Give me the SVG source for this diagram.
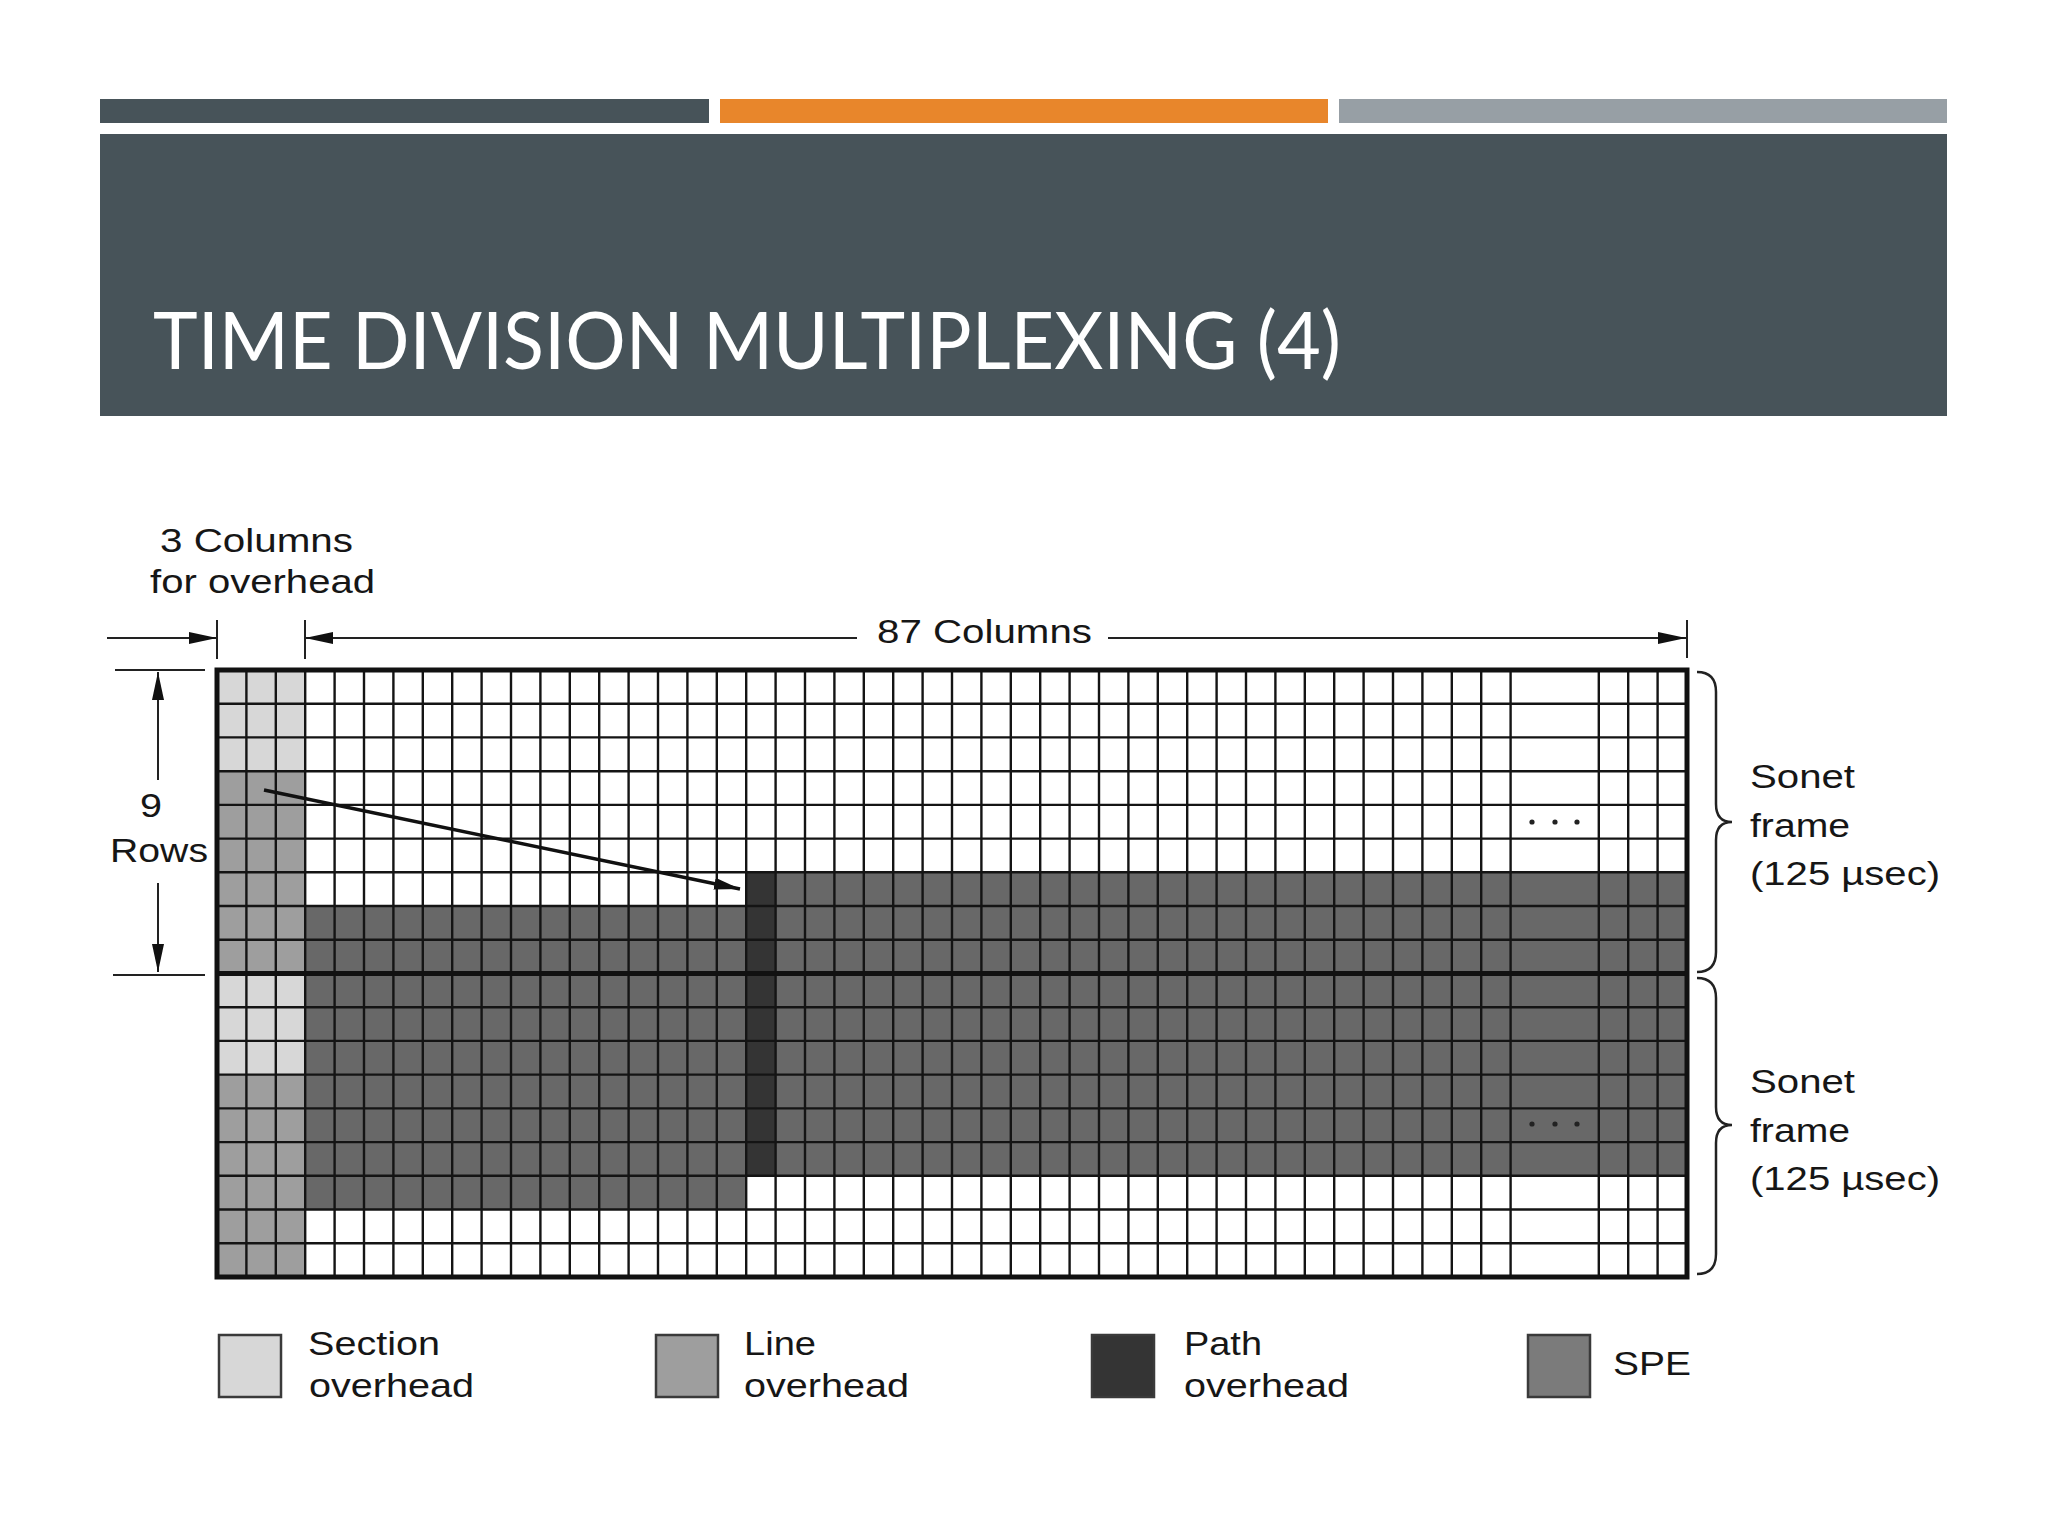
<svg xmlns="http://www.w3.org/2000/svg" width="2048" height="1536" viewBox="0 0 2048 1536">
  <style>
    .lbl { font-family: "Liberation Sans", Arial, sans-serif; font-size: 33px; fill: #161616; }
    .title { font-family: Lato, "Open Sans", sans-serif; font-size: 80px; fill: #ffffff; }
    .dim { stroke: #222; stroke-width: 2; fill: none; }
    .grid { stroke: #141414; stroke-width: 2.4; fill: none; }
    .sec { fill: #d7d7d7; }
    .line { fill: #9e9e9e; }
    .path { fill: #343434; }
    .spe { fill: #686868; }
    .lgd { stroke: #3a3a3a; stroke-width: 2.5; }
    .brace { stroke: #222; stroke-width: 2.5; fill: none; }
  </style>
  <defs>
    <marker id="ah" viewBox="0 0 28 12" refX="28" refY="6" markerWidth="28" markerHeight="12" markerUnits="userSpaceOnUse" orient="auto">
      <path d="M0,0 L28,6 L0,12 z" fill="#111"/>
    </marker>
    <marker id="ah2" viewBox="0 0 26 12" refX="26" refY="6" markerWidth="26" markerHeight="12" markerUnits="userSpaceOnUse" orient="auto">
      <path d="M0,0 L26,6 L0,12 z" fill="#111"/>
    </marker>
  </defs>
  <rect width="2048" height="1536" fill="#ffffff"/>

  <g id="header">
    <rect x="100" y="99" width="609" height="24" fill="#475359"/>
    <rect x="720" y="99" width="608" height="24" fill="#e8862b"/>
    <rect x="1339" y="99" width="608" height="24" fill="#979fa5"/>
    <rect x="100" y="134" width="1847" height="282" fill="#475359"/>
    <text class="title" x="153" y="369" textLength="1188" lengthAdjust="spacingAndGlyphs">TIME DIVISION MULTIPLEXING (4)</text>
  </g>

  <g id="sonet-grid">
    <rect class="sec" x="217" y="670" width="88.2" height="101.2"/>
    <rect class="sec" x="217" y="973.5" width="88.2" height="101.1"/>
    <rect class="line" x="217" y="771.2" width="88.2" height="202.3"/>
    <rect class="line" x="217" y="1074.6" width="88.2" height="202.4"/>
    <rect class="spe" x="305.2" y="906" width="441" height="303.5"/>
    <rect class="spe" x="775.6" y="872.3" width="911.4" height="303.5"/>
    <rect class="path" x="746.2" y="872.3" width="29.4" height="303.5"/>
    <path class="grid" d="M246.4 670V1277M275.8 670V1277M305.2 670V1277M334.6 670V1277M364 670V1277M393.4 670V1277M422.8 670V1277M452.2 670V1277M481.6 670V1277M511 670V1277M540.4 670V1277M569.8 670V1277M599.2 670V1277M628.6 670V1277M658 670V1277M687.4 670V1277M716.8 670V1277M746.2 670V1277M775.6 670V1277M805 670V1277M834.4 670V1277M863.8 670V1277M893.2 670V1277M922.6 670V1277M952 670V1277M981.4 670V1277M1010.8 670V1277M1040.2 670V1277M1069.6 670V1277M1099 670V1277M1128.4 670V1277M1157.8 670V1277M1187.2 670V1277M1216.6 670V1277M1246 670V1277M1275.4 670V1277M1304.8 670V1277M1334.2 670V1277M1363.6 670V1277M1393 670V1277M1422.4 670V1277M1451.8 670V1277M1481.2 670V1277M1510.6 670V1277M1598.8 670V1277M1628.2 670V1277M1657.6 670V1277"/>
    <path class="grid" d="M217 703.7H1687M217 737.4H1687M217 771.2H1687M217 804.9H1687M217 838.6H1687M217 872.3H1687M217 906H1687M217 939.8H1687M217 1007.2H1687M217 1040.9H1687M217 1074.6H1687M217 1108.4H1687M217 1142.1H1687M217 1175.8H1687M217 1209.5H1687M217 1243.2H1687"/>
    <path d="M217 973.5H1687" stroke="#111" stroke-width="5"/>
    <rect x="217" y="670" width="1470" height="607" fill="none" stroke="#111" stroke-width="5"/>
    <g fill="#222">
      <circle cx="1532" cy="822" r="2.6"/>
      <circle cx="1555" cy="822" r="2.6"/>
      <circle cx="1577" cy="822" r="2.6"/>
      <circle cx="1532" cy="1124" r="2.6"/>
      <circle cx="1555" cy="1124" r="2.6"/>
      <circle cx="1577" cy="1124" r="2.6"/>
    </g>
  </g>

  <g id="connectors">
    <path class="dim" d="M107 638H217" marker-end="url(#ah)"/>
    <path class="dim" d="M857 638H305" marker-end="url(#ah)"/>
    <path class="dim" d="M1108 638H1686" marker-end="url(#ah)"/>
    <path class="dim" d="M217 620V659M305 620V659M1687 620V658"/>
    <path class="dim" d="M115 670H205M113 975H205"/>
    <path class="dim" d="M158 780V672" marker-end="url(#ah)"/>
    <path class="dim" d="M158 883V972" marker-end="url(#ah)"/>
    <path d="M264 790L740 889" stroke="#111" stroke-width="3.5" fill="none" marker-end="url(#ah2)"/>
    <path class="brace" d="M1697 672Q1716 672 1716 692V804Q1716 822 1732 822Q1716 822 1716 840V952Q1716 972 1697 972"/>
    <path class="brace" d="M1697 978Q1716 978 1716 998V1107Q1716 1125 1732 1125Q1716 1125 1716 1143V1254Q1716 1274 1697 1274"/>
  </g>

  <g id="dimension-labels">
    <text class="lbl" x="160" y="552" textLength="193" lengthAdjust="spacingAndGlyphs">3 Columns</text>
    <text class="lbl" x="150" y="593" textLength="225" lengthAdjust="spacingAndGlyphs">for overhead</text>
    <text class="lbl" x="877" y="643" textLength="215" lengthAdjust="spacingAndGlyphs">87 Columns</text>
    <text class="lbl" x="140" y="817" textLength="22" lengthAdjust="spacingAndGlyphs">9</text>
    <text class="lbl" x="110" y="862" textLength="98" lengthAdjust="spacingAndGlyphs">Rows</text>
  </g>

  <g id="frame-label-1">
    <text class="lbl" x="1750" y="788" textLength="105" lengthAdjust="spacingAndGlyphs">Sonet</text>
    <text class="lbl" x="1750" y="837" textLength="100" lengthAdjust="spacingAndGlyphs">frame</text>
    <text class="lbl" x="1750" y="885" textLength="190" lengthAdjust="spacingAndGlyphs">(125 µsec)</text>
  </g>
  <g id="frame-label-2">
    <text class="lbl" x="1750" y="1093" textLength="105" lengthAdjust="spacingAndGlyphs">Sonet</text>
    <text class="lbl" x="1750" y="1142" textLength="100" lengthAdjust="spacingAndGlyphs">frame</text>
    <text class="lbl" x="1750" y="1190" textLength="190" lengthAdjust="spacingAndGlyphs">(125 µsec)</text>
  </g>

  <g id="legend-section">
    <rect class="sec lgd" x="219" y="1335" width="62" height="62"/>
    <text class="lbl" x="308" y="1355" textLength="132" lengthAdjust="spacingAndGlyphs">Section</text>
    <text class="lbl" x="309" y="1397" textLength="165" lengthAdjust="spacingAndGlyphs">overhead</text>
  </g>
  <g id="legend-line">
    <rect class="line lgd" x="656" y="1335" width="62" height="62"/>
    <text class="lbl" x="744" y="1355" textLength="72" lengthAdjust="spacingAndGlyphs">Line</text>
    <text class="lbl" x="744" y="1397" textLength="165" lengthAdjust="spacingAndGlyphs">overhead</text>
  </g>
  <g id="legend-path">
    <rect class="path lgd" x="1092" y="1335" width="62" height="62"/>
    <text class="lbl" x="1184" y="1355" textLength="78" lengthAdjust="spacingAndGlyphs">Path</text>
    <text class="lbl" x="1184" y="1397" textLength="165" lengthAdjust="spacingAndGlyphs">overhead</text>
  </g>
  <g id="legend-spe">
    <rect class="lgd" x="1528" y="1335" width="62" height="62" fill="#7b7b7b"/>
    <text class="lbl" x="1613" y="1375" textLength="78" lengthAdjust="spacingAndGlyphs">SPE</text>
  </g>
</svg>
